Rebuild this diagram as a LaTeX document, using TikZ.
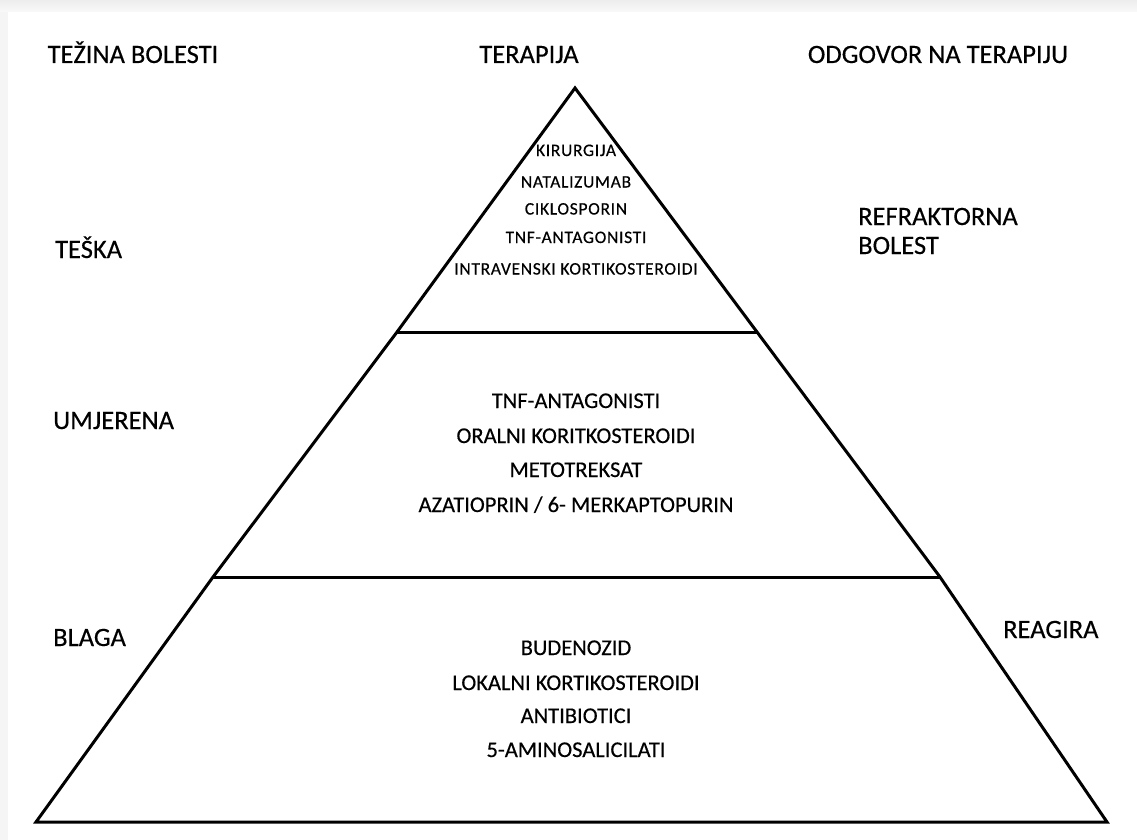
\documentclass[tikz,border=0pt]{standalone}
\usepackage{fontspec}
\setmainfont[FakeBold=0.4]{Carlito}
\newfontfamily\spacedfont[LetterSpace=4,FakeBold=0.4]{Carlito}
\begin{document}
\begin{tikzpicture}[x=1pt,y=-1pt,
  lbl/.style={inner sep=0pt, anchor=base west, font=\fontsize{26.5}{30}\selectfont},
  head/.style={inner sep=0pt, anchor=base, font=\fontsize{26.5}{30}\selectfont},
  drug/.style={inner sep=0pt, anchor=base, font=\fontsize{22.5}{26}\selectfont},
  topdrug/.style={inner sep=0pt, anchor=base, font=\spacedfont\fontsize{17.5}{20}\selectfont},
  tier/.style={line width=3pt, line join=miter}]
% page with a soft grey frame on the top and left
\useasboundingbox (0,0) rectangle (1137,840);
\fill[gray!8] (0,0) rectangle (1137,840);
\shade[top color=gray!14, bottom color=gray!5] (0,0) rectangle (1137,12);
\fill[white] (8,12) rectangle (1137,840);

% column headings
\node[head] (hsev) at (133,63) {TEŽINA BOLESTI};
\node[head] (hther) at (529,63) {TERAPIJA};
\node[head] (hresp) at (938,63) {ODGOVOR NA TERAPIJU};

% pyramid outline
\coordinate (apex) at (575,88);
\coordinate (l1) at (397,332);
\coordinate (r1) at (757,332);
\coordinate (l2) at (213,577);
\coordinate (r2) at (940,577);
\coordinate (bl) at (36,822);
\coordinate (br) at (1107,822);
\draw[tier] (apex) -- (l1) -- (l2) -- (bl) -- (br) -- (r2) -- (r1) -- cycle;
\draw[tier] (l1) -- (r1);
\draw[tier] (l2) -- (r2);

% severity
\node[lbl] (severe) at (55,258) {TEŠKA};
\node[lbl] (moderate) at (53,429) {UMJERENA};
\node[lbl] (mild) at (53,646) {BLAGA};

% response
\node[lbl] (refr1) at (858,225) {REFRAKTORNA};
\node[lbl] (refr2) at (858,254) {BOLEST};
\node[lbl] (resp) at (1003,638) {REAGIRA};

% top tier
\node[topdrug] (t1) at (576,156) {KIRURGIJA};
\node[topdrug] (t2) at (576,187.5) {NATALIZUMAB};
\node[topdrug] (t3) at (576,214.5) {CIKLOSPORIN};
\node[topdrug] (t4) at (576,243) {TNF-ANTAGONISTI};
\node[topdrug] (t5) at (576,274.5) {INTRAVENSKI KORTIKOSTEROIDI};

% middle tier
\node[drug] (m1) at (576,408) {TNF-ANTAGONISTI};
\node[drug] (m2) at (576,443) {ORALNI KORITKOSTEROIDI};
\node[drug] (m3) at (576,477) {METOTREKSAT};
\node[drug] (m4) at (576,512) {AZATIOPRIN / 6- MERKAPTOPURIN};

% bottom tier
\node[drug] (b1) at (576,655) {BUDENOZID};
\node[drug] (b2) at (576,690) {LOKALNI KORTIKOSTEROIDI};
\node[drug] (b3) at (576,723) {ANTIBIOTICI};
\node[drug] (b4) at (576,757) {5-AMINOSALICILATI};
\end{tikzpicture}
\end{document}
